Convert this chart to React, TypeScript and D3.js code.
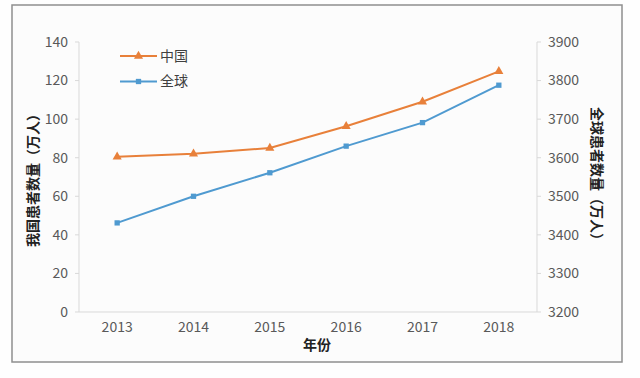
import React from "react";
import * as d3 from "d3";

const years = ["2013", "2014", "2015", "2016", "2017", "2018"];
const chinaValues = [80.5, 82, 85, 96.3, 109, 124.8];
const globalValues = [3431, 3500, 3561, 3630, 3691, 3788];
const leftTicks = [0, 20, 40, 60, 80, 100, 120, 140];
const rightTicks = [3200, 3300, 3400, 3500, 3600, 3700, 3800, 3900];
const seriesNames = ["中国", "全球"];

const W = 640;
const H = 378;
const M = { left: 79, right: 537, top: 42, bottom: 312 };
const ORANGE = "#E8803A";
const BLUE = "#4F9AD0";
const FONT = "'Noto Sans CJK SC', 'Noto Sans', sans-serif";

export default function App() {
  const x = d3.scaleBand<string>().domain(years).range([M.left, M.right]);
  const yL = d3.scaleLinear().domain([0, 140]).range([M.bottom, M.top]);
  const yR = d3.scaleLinear().domain([3200, 3900]).range([M.bottom, M.top]);
  const cx = (d: string) => (x(d) as number) + x.bandwidth() / 2;

  const lineChina = d3
    .line<number>()
    .x((_, i) => cx(years[i]))
    .y((v) => yL(v));
  const lineGlobal = d3
    .line<number>()
    .x((_, i) => cx(years[i]))
    .y((v) => yR(v));
  const tri = d3.symbol().type(d3.symbolTriangle).size(36)() as string;
  const sq = d3.symbol().type(d3.symbolSquare).size(28)() as string;

  return (
    <svg
      width={W}
      height={H}
      style={{ position: "absolute", left: 0, top: 0, fontFamily: FONT }}
    >
      <rect x={0} y={0} width={W} height={H} fill="#fefefe" />
      <rect x={12} y={5} width={610} height={357} fill="#fcfcfc" stroke="#8f8f8f" strokeWidth={1.5} />

      {/* axes */}
      <line x1={M.left} x2={M.left} y1={M.top} y2={M.bottom} stroke="#d9d9d9" />
      <line x1={M.right} x2={M.right} y1={M.top} y2={M.bottom} stroke="#d9d9d9" />
      <line x1={M.left} x2={M.right} y1={M.bottom} y2={M.bottom} stroke="#d9d9d9" />

      {leftTicks.map((t) => (
        <g key={"l" + t}>
          <line x1={M.left - 4} x2={M.left} y1={yL(t)} y2={yL(t)} stroke="#d9d9d9" />
          <text x={68} y={yL(t)} dy="0.35em" textAnchor="end" fontSize={14} fill="#595959">
            {t}
          </text>
        </g>
      ))}
      {rightTicks.map((t) => (
        <g key={"r" + t}>
          <line x1={M.right} x2={M.right + 4} y1={yR(t)} y2={yR(t)} stroke="#d9d9d9" />
          <text x={548} y={yR(t)} dy="0.35em" textAnchor="start" fontSize={14} fill="#595959">
            {t}
          </text>
        </g>
      ))}
      {years.map((yr) => (
        <text key={yr} x={cx(yr)} y={327} dy="0.35em" textAnchor="middle" fontSize={14} fill="#595959">
          {yr}
        </text>
      ))}

      {/* axis titles */}
      <text x={317} y={345} dy="0.35em" textAnchor="middle" fontSize={14} fontWeight="bold" fill="#222">
        年份
      </text>
      <text
        transform={`translate(33,${(M.top + M.bottom) / 2}) rotate(-90)`}
        dy="0.35em"
        textAnchor="middle"
        fontSize={14}
        fontWeight="bold"
        fill="#222"
      >
        我国患者数量（万人）
      </text>
      <text
        transform={`translate(597,${(M.top + M.bottom) / 2}) rotate(90)`}
        dy="0.35em"
        textAnchor="middle"
        fontSize={14}
        fontWeight="bold"
        fill="#222"
      >
        全球患者数量（万人）
      </text>

      {/* series */}
      <path d={lineChina(chinaValues) as string} fill="none" stroke={ORANGE} strokeWidth={2} />
      {chinaValues.map((v, i) => (
        <path key={"c" + i} d={tri} transform={`translate(${cx(years[i])},${yL(v)})`} fill={ORANGE} />
      ))}
      <path d={lineGlobal(globalValues) as string} fill="none" stroke={BLUE} strokeWidth={2} />
      {globalValues.map((v, i) => (
        <path key={"g" + i} d={sq} transform={`translate(${cx(years[i])},${yR(v)})`} fill={BLUE} />
      ))}

      {/* legend */}
      {seriesNames.map((name, i) => {
        const ly = 56 + i * 25.5;
        const color = i === 0 ? ORANGE : BLUE;
        return (
          <g key={name}>
            <line x1={120} x2={157} y1={ly} y2={ly} stroke={color} strokeWidth={2} />
            <path d={i === 0 ? tri : sq} transform={`translate(138.5,${ly})`} fill={color} />
            <text x={160} y={ly} dy="0.35em" fontSize={14} fill="#404040">
              {name}
            </text>
          </g>
        );
      })}
    </svg>
  );
}
